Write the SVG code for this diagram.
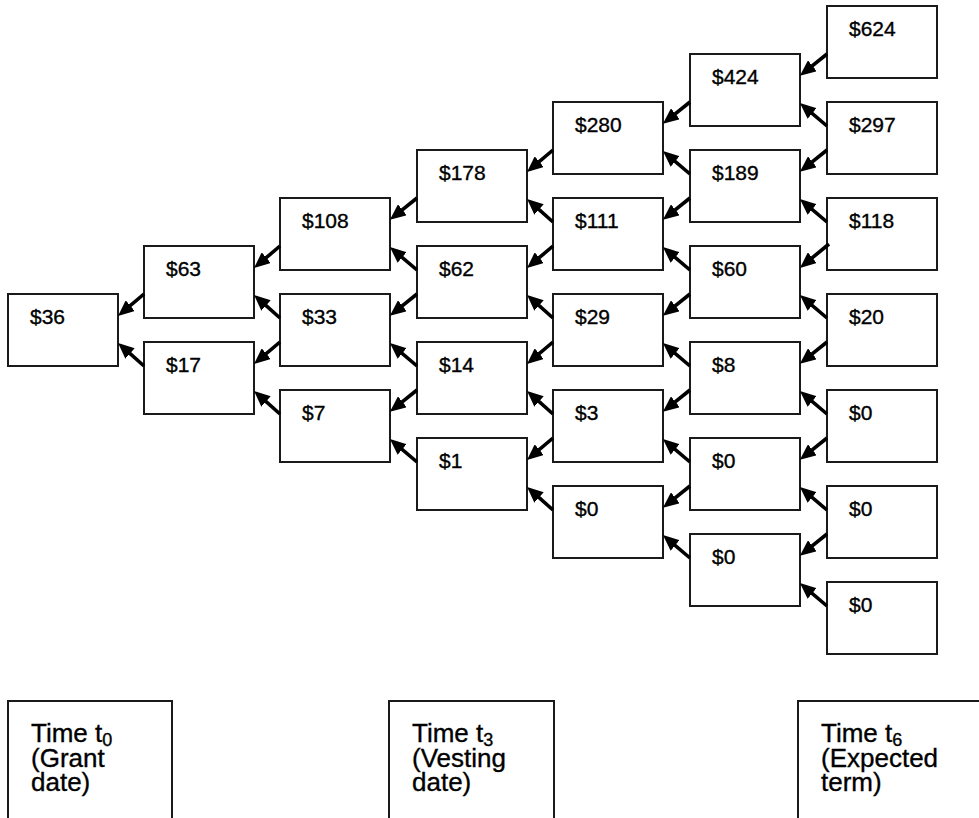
<svg xmlns="http://www.w3.org/2000/svg" width="979" height="818" viewBox="0 0 979 818">
<style>
.b{fill:#fff;stroke:#1a1a1a;stroke-width:2}
.v{font-family:"Liberation Sans",Arial,sans-serif;font-size:21px;fill:#000;stroke:#000;stroke-width:0.35}
.t{font-family:"Liberation Sans",Arial,sans-serif;font-size:26px;fill:#000;stroke:#000;stroke-width:0.35}
.s{font-size:18px}
.a{fill:none;stroke:#000;stroke-width:3.6;marker-end:url(#ah)}
</style>
<defs>
<marker id="ah" markerUnits="userSpaceOnUse" markerWidth="16" markerHeight="14" viewBox="0 0 16 14" refX="7" refY="7" orient="auto">
<path d="M0,0 L16,7 L0,14 z" fill="#000"/>
</marker>
</defs>
<rect width="979" height="818" fill="#fff"/>
<g id="n0_0"><rect class="b" x="8" y="294" width="110" height="72"/><text class="v" x="30" y="324">$36</text></g>
<g id="n1_0"><rect class="b" x="144" y="246" width="110" height="72"/><text class="v" x="166" y="276">$63</text></g>
<g id="n1_1"><rect class="b" x="144" y="342" width="110" height="72"/><text class="v" x="166" y="372">$17</text></g>
<g id="n2_0"><rect class="b" x="280" y="198" width="110" height="72"/><text class="v" x="302" y="228">$108</text></g>
<g id="n2_1"><rect class="b" x="280" y="294" width="110" height="72"/><text class="v" x="302" y="324">$33</text></g>
<g id="n2_2"><rect class="b" x="280" y="390" width="110" height="72"/><text class="v" x="302" y="420">$7</text></g>
<g id="n3_0"><rect class="b" x="417" y="150" width="110" height="72"/><text class="v" x="439" y="180">$178</text></g>
<g id="n3_1"><rect class="b" x="417" y="246" width="110" height="72"/><text class="v" x="439" y="276">$62</text></g>
<g id="n3_2"><rect class="b" x="417" y="342" width="110" height="72"/><text class="v" x="439" y="372">$14</text></g>
<g id="n3_3"><rect class="b" x="417" y="438" width="110" height="72"/><text class="v" x="439" y="468">$1</text></g>
<g id="n4_0"><rect class="b" x="553" y="102" width="110" height="72"/><text class="v" x="575" y="132">$280</text></g>
<g id="n4_1"><rect class="b" x="553" y="198" width="110" height="72"/><text class="v" x="575" y="228">$111</text></g>
<g id="n4_2"><rect class="b" x="553" y="294" width="110" height="72"/><text class="v" x="575" y="324">$29</text></g>
<g id="n4_3"><rect class="b" x="553" y="390" width="110" height="72"/><text class="v" x="575" y="420">$3</text></g>
<g id="n4_4"><rect class="b" x="553" y="486" width="110" height="72"/><text class="v" x="575" y="516">$0</text></g>
<g id="n5_0"><rect class="b" x="690" y="54" width="110" height="72"/><text class="v" x="712" y="84">$424</text></g>
<g id="n5_1"><rect class="b" x="690" y="150" width="110" height="72"/><text class="v" x="712" y="180">$189</text></g>
<g id="n5_2"><rect class="b" x="690" y="246" width="110" height="72"/><text class="v" x="712" y="276">$60</text></g>
<g id="n5_3"><rect class="b" x="690" y="342" width="110" height="72"/><text class="v" x="712" y="372">$8</text></g>
<g id="n5_4"><rect class="b" x="690" y="438" width="110" height="72"/><text class="v" x="712" y="468">$0</text></g>
<g id="n5_5"><rect class="b" x="690" y="534" width="110" height="72"/><text class="v" x="712" y="564">$0</text></g>
<g id="n6_0"><rect class="b" x="827" y="6" width="110" height="72"/><text class="v" x="849" y="36">$624</text></g>
<g id="n6_1"><rect class="b" x="827" y="102" width="110" height="72"/><text class="v" x="849" y="132">$297</text></g>
<g id="n6_2"><rect class="b" x="827" y="198" width="110" height="72"/><text class="v" x="849" y="228">$118</text></g>
<g id="n6_3"><rect class="b" x="827" y="294" width="110" height="72"/><text class="v" x="849" y="324">$20</text></g>
<g id="n6_4"><rect class="b" x="827" y="390" width="110" height="72"/><text class="v" x="849" y="420">$0</text></g>
<g id="n6_5"><rect class="b" x="827" y="486" width="110" height="72"/><text class="v" x="849" y="516">$0</text></g>
<g id="n6_6"><rect class="b" x="827" y="582" width="110" height="72"/><text class="v" x="849" y="612">$0</text></g>
<g id="lbl_t0"><rect class="b" x="8" y="701" width="164" height="130"/><text class="t" x="31" y="742">Time t<tspan class="s" dy="4">0</tspan></text><text class="t" x="31" y="767">(Grant</text><text class="t" x="31" y="791">date)</text></g>
<g id="lbl_t3"><rect class="b" x="389" y="701" width="165" height="130"/><text class="t" x="412" y="742">Time t<tspan class="s" dy="4">3</tspan></text><text class="t" x="412" y="767">(Vesting</text><text class="t" x="412" y="791">date)</text></g>
<g id="lbl_t6"><rect class="b" x="798" y="701" width="200" height="130"/><text class="t" x="821" y="742">Time t<tspan class="s" dy="4">6</tspan></text><text class="t" x="821" y="767">(Expected</text><text class="t" x="821" y="791">term)</text></g>
<g id="connectors">
<path class="a" d="M144,294 L124.9,310.2"/><path class="a" d="M144,366 L124.8,348.9"/>
<path class="a" d="M280,246 L260.9,262.2"/><path class="a" d="M280,318 L260.8,300.9"/>
<path class="a" d="M280,342 L260.9,358.2"/><path class="a" d="M280,414 L260.8,396.9"/>
<path class="a" d="M417,198 L396.9,214.2"/><path class="a" d="M417,270 L396.8,252.9"/>
<path class="a" d="M417,294 L396.9,310.2"/><path class="a" d="M417,366 L396.8,348.9"/>
<path class="a" d="M417,390 L396.9,406.2"/><path class="a" d="M417,462 L396.8,444.9"/>
<path class="a" d="M553,150 L533.9,166.2"/><path class="a" d="M553,222 L533.8,204.9"/>
<path class="a" d="M553,246 L533.9,262.2"/><path class="a" d="M553,318 L533.8,300.9"/>
<path class="a" d="M553,342 L533.9,358.2"/><path class="a" d="M553,414 L533.8,396.9"/>
<path class="a" d="M553,438 L533.9,454.2"/><path class="a" d="M553,510 L533.8,492.9"/>
<path class="a" d="M690,102 L669.9,118.2"/><path class="a" d="M690,174 L669.8,156.9"/>
<path class="a" d="M690,198 L669.9,214.2"/><path class="a" d="M690,270 L669.8,252.9"/>
<path class="a" d="M690,294 L669.9,310.2"/><path class="a" d="M690,366 L669.8,348.9"/>
<path class="a" d="M690,390 L669.9,406.2"/><path class="a" d="M690,462 L669.8,444.9"/>
<path class="a" d="M690,486 L669.9,502.2"/><path class="a" d="M690,558 L669.8,540.9"/>
<path class="a" d="M827,54 L806.9,70.2"/><path class="a" d="M827,126 L806.8,108.9"/>
<path class="a" d="M827,150 L806.9,166.2"/><path class="a" d="M827,222 L806.8,204.9"/>
<path class="a" d="M829,244 L806.9,262.2"/><path class="a" d="M827,318 L806.8,300.9"/>
<path class="a" d="M827,342 L806.9,358.2"/><path class="a" d="M827,414 L806.8,396.9"/>
<path class="a" d="M827,438 L806.9,454.2"/><path class="a" d="M827,510 L806.8,492.9"/>
<path class="a" d="M827,534 L806.9,550.2"/><path class="a" d="M827,606 L806.8,588.9"/>
</g>
</svg>
